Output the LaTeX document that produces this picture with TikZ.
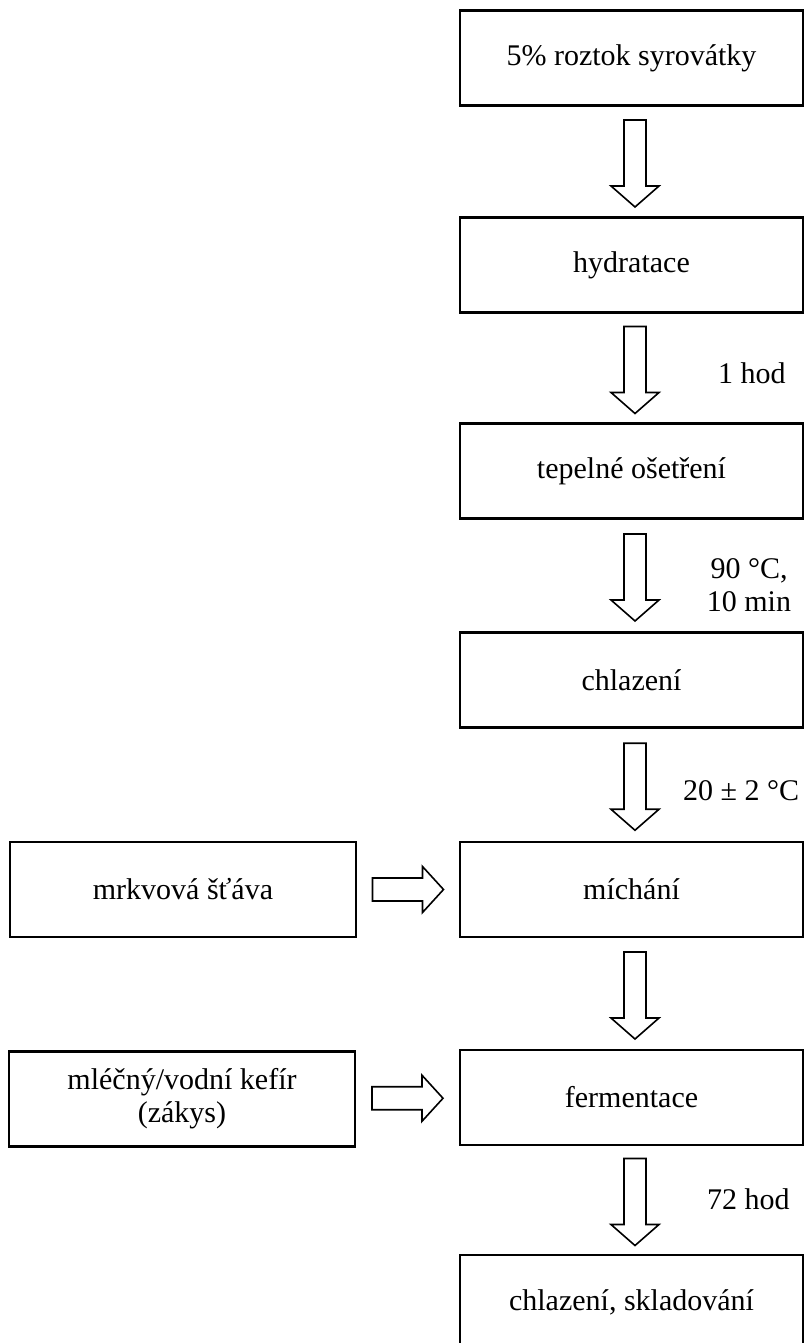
\documentclass[tikz,border=0pt]{standalone}
\usepackage{fontspec}
\setmainfont{Liberation Serif}
\usetikzlibrary{calc}

% hollow block arrow pointing down, centred in the gap between two stacked boxes
\newcommand\downblock[2]{%
  \coordinate (mid) at ($($(#1.south)!0.5!(#2.north)$)+(3.5,2)$);
  \draw[blockarrow] ($(mid)+(-11,-43.5)$) -- ($(mid)+(11,-43.5)$)
    -- ($(mid)+(11,22.5)$) -- ($(mid)+(24,22.5)$) -- ($(mid)+(0,43.5)$)
    -- ($(mid)+(-24,22.5)$) -- ($(mid)+(-11,22.5)$) -- cycle;}

% hollow block arrow pointing right, between a side box and a main box
\newcommand\sideblock[2]{%
  \coordinate (mid) at ($(#1.east)!0.5!(#2.west)$);
  \draw[blockarrow] ($(mid)+(-35.5,-11.5)$) -- ($(mid)+(14.5,-11.5)$)
    -- ($(mid)+(14.5,-23)$) -- ($(mid)+(35.5,0)$) -- ($(mid)+(14.5,23)$)
    -- ($(mid)+(14.5,11.5)$) -- ($(mid)+(-35.5,11.5)$) -- cycle;}

\begin{document}
\begin{tikzpicture}[x=1pt,y=-1pt,
  stepbox/.style={draw, line width=2.2pt, minimum width=343pt, minimum height=95pt,
    inner sep=0pt, align=center, font=\fontsize{30}{33}\selectfont},
  sidebox/.style={stepbox, minimum width=346pt},
  blockarrow/.style={draw, fill=white, line width=1.6pt, line join=miter},
  note/.style={inner sep=0pt, align=center, font=\fontsize{30}{33}\selectfont}]

\useasboundingbox (0,0) rectangle (805,1343);

% main process column
\node[stepbox] (s1) at (631.5,58)     {5\% roztok syrovátky};
\node[stepbox] (s2) at (631.5,265)    {hydratace};
\node[stepbox] (s3) at (631.5,471)    {tepelné ošetření};
\node[stepbox] (s4) at (631.5,680)    {chlazení};
\node[stepbox] (s5) at (631.5,889.5)  {míchání};
\node[stepbox] (s6) at (631.5,1097.5) {fermentace};
\node[stepbox] (s7) at (631.5,1302.5) {chlazení, skladování};

% added ingredients
\node[sidebox] (i1) at (183,889.5) {mrkvová šťáva};
\node[sidebox] (i2) at (182,1099)  {mléčný/vodní kefír\\(zákys)};

% flow arrows
\downblock{s1}{s2}
\downblock{s2}{s3}
\downblock{s3}{s4}
\downblock{s4}{s5}
\downblock{s5}{s6}
\downblock{s6}{s7}
\sideblock{i1}{s5}
\sideblock{i2}{s6}

% process conditions
\node[note, anchor=base west] (c1) at (718,383)  {1 hod};
\node[note]                   (c2) at (749,585)  {90 °C,\\10 min};
\node[note, anchor=base west] (c3) at (683,800)  {20 ± 2 °C};
\node[note, anchor=base west] (c4) at (707,1209) {72 hod};
\end{tikzpicture}
\end{document}
